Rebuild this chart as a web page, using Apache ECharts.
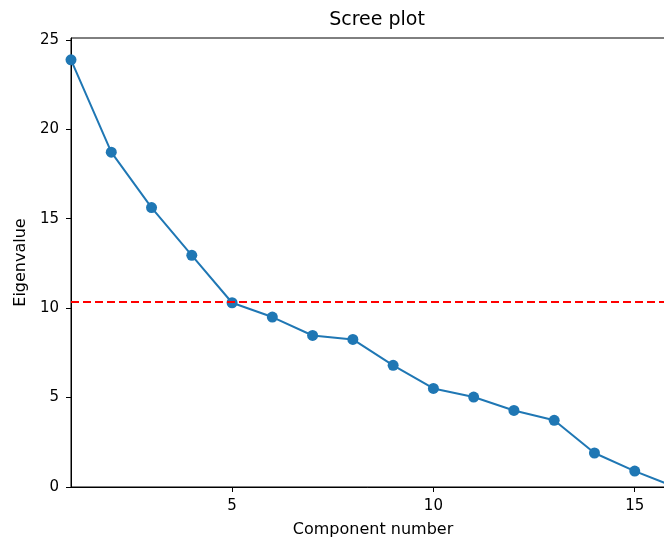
<!DOCTYPE html>
<html>
<head>
<meta charset="utf-8">
<script src="https://cdn.jsdelivr.net/npm/echarts@6/dist/echarts.min.js"></script>
<style>
html,body{margin:0;padding:0;background:#fff;}
#chart{width:664px;height:539px;}
</style>
</head>
<body>
<div id="chart"></div>
<script>
const components = [1,2,3,4,5,6,7,8,9,10,11,12,13,14,15,16];
const eigenvalues = [23.88,18.72,15.62,12.95,10.30,9.50,8.47,8.25,6.80,5.51,5.03,4.28,3.73,1.90,0.89,0.0];
const threshold = [10.33];
const xTicks = [5,10,15];
const yTicks = [0,5,10,15,20,25];

const FONT = 'DejaVu Sans';
const chart = echarts.init(document.getElementById('chart'), null, {renderer:'canvas'});
chart.setOption({
  animation:false,
  backgroundColor:'#fff',
  title:{text:'Scree plot', left:372, top:6, textAlign:'center',
    textStyle:{fontFamily:FONT, fontSize:19, fontWeight:'normal', color:'#000'}},
  grid:{left:71, right:-11, top:38, bottom:52, show:true, borderColor:'#000', borderWidth:1,
    containLabel:false, outerBoundsMode:'none'},
  xAxis:{type:'value', min:1, max:16,
    name:'Component number', nameLocation:'middle', nameGap:35,
    nameTextStyle:{fontFamily:FONT, fontSize:16, color:'#000'},
    axisLine:{show:true, onZero:false, lineStyle:{color:'#000', width:1}},
    axisTick:{show:true, length:5, customValues:xTicks, lineStyle:{color:'#000'}},
    axisLabel:{customValues:xTicks, margin:12, fontFamily:FONT, fontSize:15, color:'#000'},
    splitLine:{show:false}},
  yAxis:{type:'value', min:0, max:25.1,
    name:'Eigenvalue', nameLocation:'middle', nameGap:40, nameRotate:90,
    nameTextStyle:{fontFamily:FONT, fontSize:16, color:'#000'},
    axisLine:{show:true, lineStyle:{color:'#000', width:1}},
    axisTick:{show:true, length:5, customValues:yTicks, lineStyle:{color:'#000'}},
    axisLabel:{customValues:yTicks, margin:12, fontFamily:FONT, fontSize:15, color:'#000'},
    splitLine:{show:false}},
  series:[{
    type:'line',
    data:components.map((c,i)=>[c, eigenvalues[i]]),
    symbol:'circle', symbolSize:11, showSymbol:true,
    clip:true,
    itemStyle:{color:'#1f77b4'},
    lineStyle:{color:'#1f77b4', width:2},
    markLine:{silent:true, symbol:'none', label:{show:false},
      lineStyle:{color:'#ff0000', type:[8,4], width:2},
      data:[{yAxis:threshold[0]}]}
  }]
});
</script>
</body>
</html>
